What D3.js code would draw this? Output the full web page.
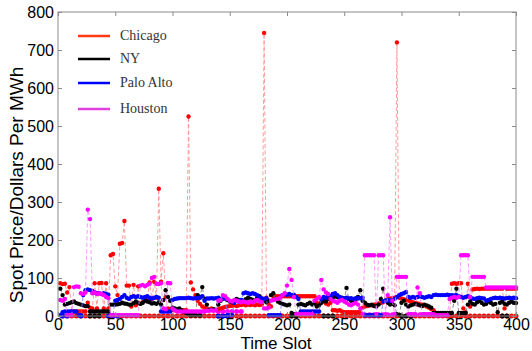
<!DOCTYPE html>
<html><head><meta charset="utf-8">
<script src="https://cdn.jsdelivr.net/npm/d3@7/dist/d3.min.js"></script>
<style>html,body{margin:0;padding:0;background:#fff;}svg{display:block;}</style>
</head><body>
<svg id="chart" width="532" height="351"></svg>
<script>
// Time slots: main traces sampled at slots 2,4,...,400 ; low traces at slots 4,8,...,400
const cities = ["Chicago", "NY", "Palo Alto", "Houston"];
const xTicks = [0, 50, 100, 150, 200, 250, 300, 350, 400];
const yTicks = [0, 100, 200, 300, 400, 500, 600, 700, 800];

const chicagoMain = [
 86,84,85,62,76, 12,12,12,12,12, 12,12,35,22,20, 86,20,86,87,20,
 86,20,160,163,78, 55,190,192,250,80, 80,25,82,28,78, 32,36,40,42,88,
 45,90,48,335,90, 165,50,20,18,16, 15,16,14,15,15, 15,525,88,70,55,
 40,32,25,22,20, 18,20,15,16,18, 20,22,24,25,26, 27,28,26,28,29,
 30,28,30,29,30, 28,30,29,30,745, 48,30,25,52,52, 52,52,52,52,52,
 52,52,52,52,52, 52,52,52,52,52, 52,52,35,32,36, 38,33,30,35,15,
 15,14,15,12,10, 10,10,10,10,10, 10,10,22,25,26, 28,28,30,32,33,
 34,36,40,44,46, 47,48,720,48,46, 44,42,40,38,36, 34,33,32,30,28,
 25,22,18,15,8, 5,3,2,1,1, 1,85,86,85,86, 86,20,10,85,25,
 70,71,72,71,72, 72,72,72,72,72, 72,72,72,72,20, 72,72,72,72,72
];
const nyMain = [
 72,55,30,32,34, 36,38,34,32,30, 28,26,26,12,12, 12,12,12,12,12,
 12,12,30,30,30, 31,32,35,33,32, 30,30,34,38,35, 32,35,40,38,36,
 33,34,32,36,30, 42,68,50,40,22, 20,18,20,15,10, 8,5,3,3,3,
 55,50,76,45,30, 16,16,18,16,30, 40,45,48,42,38, 36,40,45,42,38,
 40,44,48,45,42, 40,48,52,45,40, 36,40,55,60,45, 38,35,32,30,28,
 30,8,5,5,30, 32,30,28,32,35, 30,32,25,28,35, 40,38,45,50,48,
 52,50,45,48,42, 74,45,40,42,45, 50,68,40,35,30, 28,30,26,25,30,
 45,72,40,35,30, 32,28,5,3,35, 40,30,25,28,30, 32,30,28,26,30,
 28,25,22,8,8, 8,8,8,8,8, 8,8,40,72,8, 8,8,8,30,38,
 32,30,36,40,35, 30,32,38,35,30, 32,10,35,38,32, 30,35,38,35,34
];
const paloAltoMain = [
 2,10,12,12,12, 12,12,12,2,2, 55,68,70,68,66, 62,60,60,58,60,
 58,56,2,2,40, 42,45,50,55,48, 45,50,52,50,52, 50,48,50,52,48,
 46,48,50,48,12, 12,12,12,12,42, 45,46,47,47,47, 47,48,47,46,47,
 47,48,52,40,46, 46,47,46,47,48, 45,47,46,2,2, 2,35,40,38,42,
 60,62,60,58,60, 58,55,48,47,45, 47,2,2,2,2, 2,2,55,58,56,
 58,55,56,50,45, 12,12,12,12,12, 12,12,12,12,45, 50,48,55,52,58,
 60,55,50,47,47, 48,46,47,45,47, 46,47,48,2,2, 2,2,2,2,2,
 2,38,40,42,40, 42,45,50,55,58, 60,63,50,48,50, 48,50,52,50,48,
 50,52,50,55,56, 55,55,55,55,56, 55,55,54,55,52, 50,48,50,52,50,
 46,45,47,48,47, 46,40,42,45,47, 48,47,48,47,46, 47,48,47,48,47
];
const houstonMain = [
 42,40,45,2,2, 2,76,78,77,60, 58,62,280,255,60, 62,58,60,58,55,
 50,47,2,2,2, 2,2,2,2,2, 2,2,2,2,2, 80,82,78,82,85,
 100,103,85,84,86, 20,18,87,86,20, 15,12,12,12,12, 12,12,12,12,12,
 12,12,12,12,14, 14,15,14,15,40, 42,55,52,45,40, 38,42,40,38,36,
 38,36,35,38,36, 40,42,38,36,20, 20,22,40,42,44, 45,48,55,60,80,
 124,95,50,5,5, 5,5,5,5,5, 5,40,45,50,95, 70,62,58,45,40,
 38,35,40,42,38, 35,30,28,32,35, 30,20,5,160,160, 160,160,160,5,160,
 160,160,5,55,260, 40,5,103,103,103, 103,103,5,5,5, 5,75,60,5,5,
 5,5,5,5,2, 2,2,2,2,2, 45,48,50,48,50, 160,160,160,160,50,
 103,103,103,103,103, 103,75,75,75,75, 75,75,75,75,75, 75,75,75,75,75
];
const chicagoLow = [
 0,0,0,0,0,0,0,0,0,0, 0,0,0,0,0,0,0,0,0,0, 0,0,0,0,0,0,0,0,0,0, 0,0,0,0,0,0,0,0,0,0,
 0,0,0,0,0,0,0,0,0,0, 0,0,0,0,0,0,0,0,0,0, 0,0,0,0,0,0,0,0,0,0, 0,0,0,0,0,0,0,0,0,0,
 0,0,0,0,0,0,0,0,0,0, 0,0,0,0,0,0,0,0,0,0
];
const nyLow = [
 null,null,null,null,null,null,0,0,0,null, null,null,null,null,null,null,null,null,null,null,
 null,null,null,null,null,null,null,null,2,2, 2,null,null,null,0,0,0,null,null,null,
 null,null,null,null,null,null,null,null,null,null, 0,0,null,null,null,null,null,0,0,0,
 null,null,null,null,null,null,null,null,null,null, null,null,null,null,0,0,0,null,null,null,
 null,null,null,null,null,null,null,null,null,null, null,null,null,null,null,null,0,0,null,null
];
const paloAltoLow = [
 0,0,null,null,0,null,null,null,null,null, 0,0,0,null,null,null,null,null,null,null,
 null,null,null,null,null,null,null,null,null,null, null,null,null,null,0,0,0,null,null,null,
 null,null,null,null,null,null,null,null,null,null, null,null,null,null,null,null,null,null,null,null,
 null,null,null,null,null,null,null,null,null,null, null,null,null,null,null,null,null,null,null,null,
 null,null,null,null,null,null,null,null,null,null, null,null,null,null,null,null,null,null,null,null
];
const houstonLow = [
 null,null,null,null,null,null,null,null,null,null, null,null,null,null,null,null,null,null,null,null,
 null,null,null,null,null,null,null,null,null,null, null,null,null,null,12,12,12,12,12,12,
 null,null,null,null,null,null,null,null,null,null, null,null,null,null,null,null,null,null,null,null,
 null,null,null,null,null,null,3,3,3,3, 3,3,3,null,null,null,3,3,3,3, 3,3,3,3,3,null,null,null,null,null,
 null,null,null,null,null,null,null,null,null,null
];

const colors = {"Chicago":"#ff0000","NY":"#000000","Palo Alto":"#0000ff","Houston":"#ff00ff"};
const lineColors = {"Chicago":"#ff8a8a","NY":"#777777","Palo Alto":"#7777ff","Houston":"#ff88ff"};
const legendColors = {"Chicago":"#ff3a10","NY":"#000000","Palo Alto":"#0000ff","Houston":"#e040e0"};

const traces = [
  {city:"Chicago", step:4, vals:chicagoLow, r:2.5},
  {city:"NY", step:4, vals:nyLow, r:2.5},
  {city:"Palo Alto", step:4, vals:paloAltoLow, r:2.5},
  {city:"Houston", step:4, vals:houstonLow, r:2.5},
  {city:"Chicago", step:2, vals:chicagoMain, r:2.2},
  {city:"NY", step:2, vals:nyMain, r:2.2},
  {city:"Palo Alto", step:2, vals:paloAltoMain, r:2.2},
  {city:"Houston", step:2, vals:houstonMain, r:2.2}
];

const svg = d3.select("#chart");
const x = d3.scaleLinear().domain([0,400]).range([58,516]);
const y = d3.scaleLinear().domain([0,800]).range([316,12]);
const axisColor = "#8a8a8a";
const tickFont = "'Liberation Sans', Arial, sans-serif";

const plot = svg.append("g");
const line = d3.line().defined(d => d.v !== null).x(d => x(d.t)).y(d => y(d.v));

traces.forEach(tr => {
  const pts = tr.vals.map((v,i) => ({t:(i+1)*tr.step, v:v}));
  plot.append("path").datum(pts)
    .attr("d", line).attr("fill","none")
    .attr("stroke", lineColors[tr.city]).attr("stroke-width",1)
    .attr("stroke-dasharray","4,2.5").attr("opacity",0.85);
  plot.selectAll(null).data(pts.filter(d => d.v !== null)).enter().append("circle")
    .attr("cx", d => x(d.t)).attr("cy", d => y(d.v)).attr("r", tr.r)
    .attr("fill", colors[tr.city]);
});

// box & axes
const ax = svg.append("g");
ax.append("rect").attr("x",58).attr("y",12).attr("width",458).attr("height",304)
  .attr("fill","none").attr("stroke",axisColor).attr("stroke-width",1);
const xAxis = d3.axisBottom(x).tickValues(xTicks).tickSize(-4).tickPadding(3).tickFormat(d3.format("d"));
const gx = ax.append("g").attr("transform","translate(0,316)").call(xAxis);
const xAxisTop = d3.axisTop(x).tickValues(xTicks).tickSize(-4).tickFormat("");
const gxt = ax.append("g").attr("transform","translate(0,12)").call(xAxisTop);
const yAxis = d3.axisLeft(y).tickValues(yTicks).tickSize(-4).tickPadding(4).tickFormat(d3.format("d"));
const gy = ax.append("g").attr("transform","translate(58,0)").call(yAxis);
const yAxisR = d3.axisRight(y).tickValues(yTicks).tickSize(-4).tickFormat("");
const gyr = ax.append("g").attr("transform","translate(516,0)").call(yAxisR);
[gx,gxt,gy,gyr].forEach(g => {
  g.select(".domain").remove();
  g.selectAll(".tick line").attr("stroke",axisColor);
  g.selectAll("text").attr("fill","#000").style("font-family",tickFont).style("font-size","16px");
});

svg.append("text").attr("x",276).attr("y",349).attr("text-anchor","middle")
  .style("font-family",tickFont).style("font-size","17px").text("Time Slot");
svg.append("text").attr("transform","translate(23,185) rotate(-90)").attr("text-anchor","middle")
  .style("font-family",tickFont).style("font-size","19px").text("Spot Price/Dollars Per MWh");

// legend
const lg = svg.append("g");
const ly = [36, 59, 83, 109];
cities.forEach((c,i) => {
  lg.append("line").attr("x1",78).attr("x2",110).attr("y1",ly[i]).attr("y2",ly[i])
    .attr("stroke",legendColors[c]).attr("stroke-width",2.5);
  lg.append("text").attr("x",120).attr("y",ly[i]+4)
    .style("font-family","'Liberation Serif','DejaVu Serif',serif").style("font-size","14px")
    .attr("fill","#333").text(c);
});
</script>
</body></html>
